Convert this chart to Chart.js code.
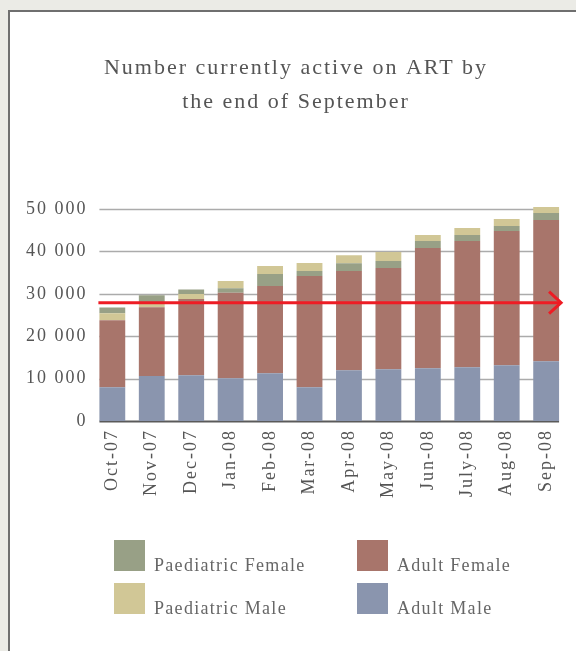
<!DOCTYPE html>
<html>
<head>
<meta charset="utf-8">
<script src="https://cdn.jsdelivr.net/npm/chart.js@4/dist/chart.umd.min.js"></script>
<style>
  html, body { margin:0; padding:0; width:576px; height:651px; overflow:hidden; background:#ebebe6; }
  #panel { position:absolute; left:8px; top:10px; width:600px; height:700px; background:#ffffff;
           border-left:2px solid #6f6f6f; border-top:2px solid #6f6f6f; }
  #c { position:absolute; left:0; top:0; }
  .lg-box { position:absolute; width:31px; height:31px; }
  .lg-txt { position:absolute; font-family:"Liberation Serif", serif; font-size:18px; line-height:18px;
            letter-spacing:1.3px; color:#666; white-space:nowrap; }
</style>
</head>
<body>
<div id="panel"></div>
<canvas id="c" width="576" height="651"></canvas>
<div id="legend"></div>
<script>
// ---- data ----
const months = ['Oct-07','Nov-07','Dec-07','Jan-08','Feb-08','Mar-08','Apr-08','May-08','Jun-08','July-08','Aug-08','Sep-08'];
const adultMale    = [7960, 10630, 10790, 10080, 11260, 7960, 11970, 12210, 12440, 12680, 13150, 14100];
const adultFemale  = [15820, 16220, 17950, 20140, 20550, 26210, 23380, 23850, 28340, 29750, 31640, 33290];
const paedMale     = [1650, 710, 1180, 1660, 1890, 1890, 1890, 2130, 1420, 1650, 1660, 1420];
const paedFemale   = [1340, 2120, 1110, 1110, 2830, 1180, 1820, 1650, 1650, 1420, 1180, 1650];
const targetValue  = 27900;
const yTicks       = [0, 10000, 20000, 30000, 40000, 50000];
const seriesNames  = ['Paediatric Female', 'Adult Female', 'Paediatric Male', 'Adult Male'];
const titleLines   = ['Number currently active on ART by', 'the end of September'];

const colors = { 'Paediatric Female':'#98a086', 'Adult Female':'#a8756b', 'Paediatric Male':'#d1c796', 'Adult Male':'#8a95ae' };
const FONT = '"Liberation Serif", serif';

// first three months: paediatric male sits below paediatric female
const pmLow  = paedMale.map((v,i) => i < 3 ? v : null);
const pmHigh = paedMale.map((v,i) => i < 3 ? null : v);

const spacingPlugin = {
  id:'spacing',
  beforeLayout(chart){ chart.ctx.letterSpacing = '2px'; },
  beforeDraw(chart){ chart.ctx.letterSpacing = '2px'; }
};

function barExtent(chart){
  const meta = chart.getDatasetMeta(0);
  const first = meta.data[0], last = meta.data[meta.data.length-1];
  return [first.x - first.width/2, last.x + last.width/2];
}

const gridPlugin = {
  id:'customGrid',
  beforeDatasetsDraw(chart){
    const ctx = chart.ctx, y = chart.scales.y;
    const [x0, x1] = barExtent(chart);
    ctx.save();
    yTicks.forEach(v => {
      const py = Math.round(y.getPixelForValue(v)) + 0.5;
      ctx.beginPath();
      ctx.strokeStyle = v === 0 ? '#5a5a5a' : '#ababab';
      ctx.lineWidth = v === 0 ? 2 : 1.6;
      ctx.moveTo(x0, py); ctx.lineTo(x1, py); ctx.stroke();
    });
    ctx.restore();
  }
};

const arrowPlugin = {
  id:'targetArrow',
  afterDatasetsDraw(chart){
    const ctx = chart.ctx, y = chart.scales.y;
    const [x0, x1] = barExtent(chart);
    const py = y.getPixelForValue(targetValue);
    const tip = x1 + 2;
    ctx.save();
    ctx.strokeStyle = '#ee1c24';
    ctx.lineWidth = 3;
    ctx.beginPath(); ctx.moveTo(x0 - 1, py); ctx.lineTo(tip, py); ctx.stroke();
    ctx.beginPath(); ctx.moveTo(tip - 12, py - 11); ctx.lineTo(tip, py); ctx.lineTo(tip - 12, py + 11); ctx.stroke();
    ctx.restore();
  }
};

new Chart(document.getElementById('c'), {
  type:'bar',
  data:{
    labels: months,
    datasets:[
      { label:'Adult Male', data: adultMale, backgroundColor: colors['Adult Male'] },
      { label:'Adult Female', data: adultFemale, backgroundColor: colors['Adult Female'] },
      { label:'Paediatric Male', data: pmLow, backgroundColor: colors['Paediatric Male'] },
      { label:'Paediatric Female', data: paedFemale, backgroundColor: colors['Paediatric Female'] },
      { label:'Paediatric Male', data: pmHigh, backgroundColor: colors['Paediatric Male'] }
    ]
  },
  options:{
    responsive:false,
    animation:false,
    devicePixelRatio:1,
    layout:{ padding:{ top:0, left:22, right:6, bottom:150 } },
    datasets:{ bar:{ categoryPercentage:1, barPercentage:0.655, borderWidth:0 } },
    plugins:{
      legend:{ display:false },
      tooltip:{ enabled:false },
      title:{
        display:true,
        text: titleLines,
        color:'#555555',
        font:{ family:FONT, size:22, weight:'normal', lineHeight:1.545 },
        padding:{ top:51, bottom:81.5 }
      }
    },
    scales:{
      x:{
        stacked:true,
        grid:{ display:false, drawTicks:false },
        border:{ display:false },
        ticks:{ color:'#555555', font:{ family:FONT, size:18 }, minRotation:90, maxRotation:90, padding:8, autoSkip:false },
        afterFit(s){ s.height = 80; }
      },
      y:{
        stacked:true,
        min:0, max:52000,
        grid:{ display:false, drawTicks:false },
        border:{ display:false },
        afterBuildTicks(s){ s.ticks = yTicks.map(v => ({ value:v })); },
        afterFit(s){ s.width = 70.6; },
        ticks:{
          color:'#555555', font:{ family:FONT, size:18 }, padding:5,
          callback(v){ return v === 0 ? '0' : (v/1000) + ' 000'; }
        }
      }
    }
  },
  plugins:[spacingPlugin, gridPlugin, arrowPlugin]
});

// ---- HTML legend (2 x 2 grid) ----
const lg = document.getElementById('legend');
seriesNames.forEach((name, i) => {
  const col = i % 2, row = Math.floor(i / 2);
  const left = 114 + col * 243, top = 540 + row * 43;
  const b = document.createElement('div');
  b.className = 'lg-box';
  b.style.left = left + 'px'; b.style.top = top + 'px';
  b.style.background = colors[name];
  const t = document.createElement('div');
  t.className = 'lg-txt';
  t.style.left = (left + 40) + 'px'; t.style.top = (top + 16) + 'px';
  t.textContent = name;
  lg.appendChild(b); lg.appendChild(t);
});
</script>
</body>
</html>
